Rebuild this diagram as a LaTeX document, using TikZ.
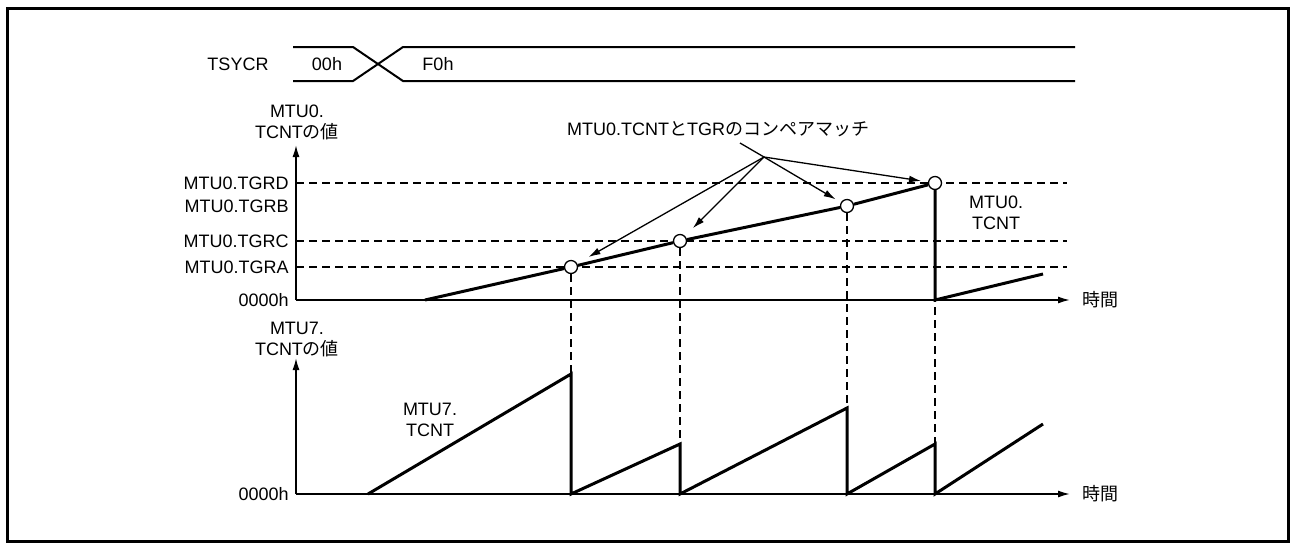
\documentclass[tikz,border=0pt]{standalone}
\usepackage{fontspec}
\setmainfont{Liberation Sans}
\newfontfamily\jpfont{Noto Sans CJK JP}
\usetikzlibrary{arrows.meta}

\begin{document}
\begin{tikzpicture}[x=0.5pt,y=-0.5pt,
  font=\fontsize{9pt}{10.5pt}\selectfont,
  every node/.style={inner sep=1pt},
  fine/.style={line width=0.65pt},
  bus/.style={line width=1pt},
  wave/.style={line width=1.5pt},
  guide/.style={line width=0.65pt, dash pattern=on 4pt off 2.5pt},
  axisline/.style={line width=0.8pt, -{Latex[length=6pt,width=3.5pt]}},
  cmp/.style={circle, draw, fill=white, line width=0.65pt, inner sep=0pt, minimum size=6.5pt},
  lbl/.style={anchor=east, inner sep=0pt}]

  \useasboundingbox (0,0) rectangle (1290,543);
  \draw[line width=1.5pt] (7.5,8.5) rectangle (1288.5,541.5);

  % ========== TSYCR ==========
  \node (tsycr) at (238,64) {TSYCR};
  \draw[bus] (293,47) -- (353,47) -- (403,81) -- (1075,81);
  \draw[bus] (293,81) -- (353,81) -- (403,47) -- (1075,47);
  \node (v00) at (327,64) {00h};
  \node (vf0) at (438,64) {F0h};

  % ========== MTU0.TCNT ==========
  \coordinate (o0) at (296,300);
  \coordinate (top0) at (296,145);
  \coordinate (end0) at (1070,300);
  \draw[axisline] (o0) -- (top0);
  \draw[axisline] (o0) -- (end0);
  \node[align=center] (ylab0) at (297,122) {MTU0.\\TCNT{\jpfont の値}};
  \node (time0) at (1100,300) {\jpfont 時間};
  \node[lbl] (zero0) at (289,300) {0000h};
  \foreach \name/\y in {TGRD/183, TGRB/206, TGRC/241, TGRA/267}
    \node[lbl] (l\name) at (289,\y) {MTU0.\name};
  \foreach \y in {183,241,267}
    \draw[guide] (296,\y) -- (1067,\y);

  \node[cmp] (cmpA) at (571,267) {};
  \node[cmp] (cmpC) at (680,241) {};
  \node[cmp] (cmpB) at (847,206) {};
  \node[cmp] (cmpD) at (935,183) {};
  \draw[wave] (425,300) -- (cmpA) -- (cmpC) -- (cmpB) -- (cmpD) -- (935,300) -- (1043,274);
  \node[align=center] (cnt0) at (996,213) {MTU0.\\TCNT};

  % compare match arrows
  \node (cmptxt) at (718,129) {MTU0.TCNT{\jpfont と}TGR{\jpfont のコンペアマッチ}};
  \coordinate (lead) at (740,143);
  \coordinate (hub) at (764,157);
  \draw[fine] (lead) -- (hub);
  \foreach \c/\s in {cmpA/6.5pt, cmpC/5.5pt, cmpB/3pt, cmpD/3.5pt}
    \draw[fine, -{Latex[length=6pt,width=3.5pt]}, shorten >=\s] (hub) -- (\c);

  % ========== MTU7.TCNT ==========
  \coordinate (o7) at (296,494);
  \coordinate (top7) at (296,358);
  \coordinate (end7) at (1070,494);
  \draw[axisline] (o7) -- (top7);
  \draw[axisline] (o7) -- (end7);
  \node[align=center] (ylab7) at (297,340) {MTU7.\\TCNT{\jpfont の値}};
  \node (time7) at (1100,494) {\jpfont 時間};
  \node[lbl] (zero7) at (289,494) {0000h};

  \coordinate (pkA) at (571,374);
  \coordinate (pkC) at (680,444);
  \coordinate (pkB) at (847,408);
  \coordinate (pkD) at (935,444);
  \draw[wave] (368,494) -- (pkA) -- (571,494) -- (pkC) -- (680,494) -- (pkB)
    -- (847,494) -- (pkD) -- (935,494) -- (1043,424);
  \node[align=center] (cnt7) at (430,420) {MTU7.\\TCNT};

  % guides down to MTU7
  \foreach \c/\p in {cmpA/pkA, cmpC/pkC, cmpB/pkB, cmpD/pkD}
    \draw[guide] (\c) -- (\p);

\end{tikzpicture}
\end{document}
